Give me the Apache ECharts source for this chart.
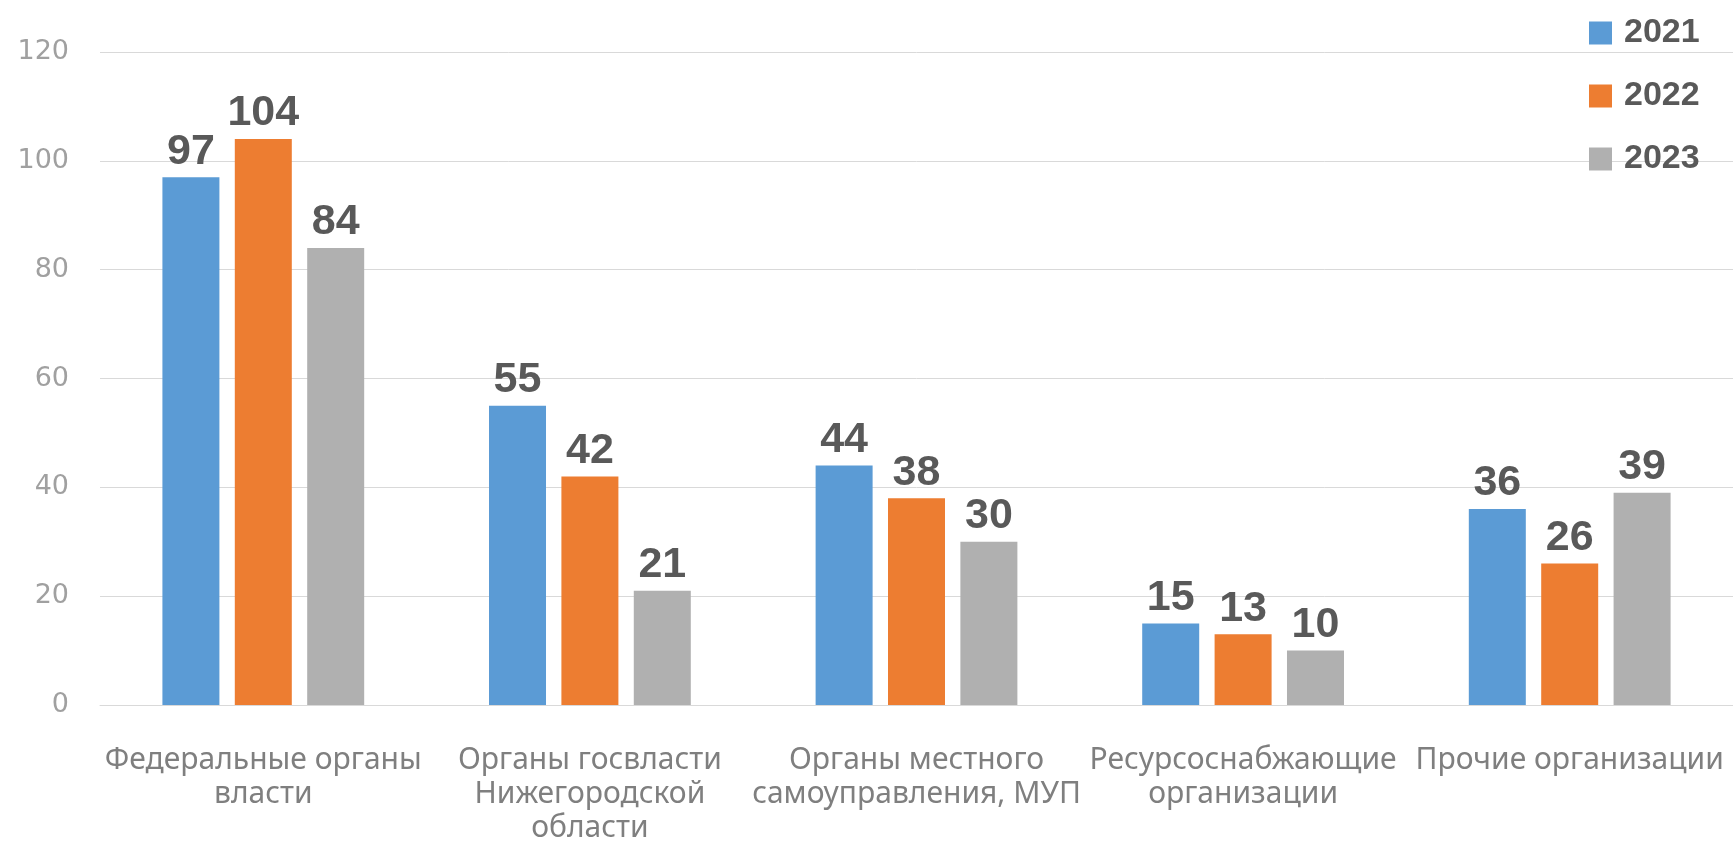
<!DOCTYPE html>
<html><head><meta charset="utf-8">
<script src="https://cdn.jsdelivr.net/npm/echarts@6/dist/echarts.min.js"></script>
<style>html,body{margin:0;padding:0;background:#fff}#c{width:1733px;height:845px}</style>
</head><body><div id="c"></div>
<script>
const categories = [
  "Федеральные органы\nвласти",
  "Органы госвласти\nНижегородской\nобласти",
  "Органы местного\nсамоуправления, МУП",
  "Ресурсоснабжающие\nорганизации",
  "Прочие организации"
];
const seriesNames = ["2021", "2022", "2023"];
const values2021 = [97, 55, 44, 15, 36];
const values2022 = [104, 42, 38, 13, 26];
const values2023 = [84, 21, 30, 10, 39];
const colors = ["#5B9BD5", "#ED7D31", "#B0B0B0"];

const chart = echarts.init(document.getElementById('c'));
const labelStyle = {
  show: true, position: 'top', distance: 4,
  fontFamily: 'Liberation Sans', fontWeight: 'bold', fontSize: 43, color: '#595959'
};
const data = [values2021, values2022, values2023];
chart.setOption({
  animation: false,
  backgroundColor: '#fff',
  color: colors,
  legend: {
    orient: 'vertical', left: 1584, top: 11,
    itemWidth: 23, itemHeight: 23, itemGap: 29, icon: 'rect',
    textStyle: { fontFamily: 'Liberation Sans', fontWeight: 'bold', fontSize: 34, color: '#595959', padding: [0,0,0,7] },
    data: seriesNames
  },
  grid: { left: 100, top: 52, width: 1642, height: 653, containLabel: false },
  xAxis: {
    type: 'category', data: categories,
    axisLine: { lineStyle: { color: '#d9d9d9' } },
    axisTick: { show: false },
    axisLabel: { interval: 0, margin: 38, fontFamily: 'Noto Sans', fontSize: 30, lineHeight: 34, color: '#7f7f7f' }
  },
  yAxis: {
    type: 'value', min: 0, max: 120, interval: 20,
    axisLine: { show: false }, axisTick: { show: false },
    splitLine: { lineStyle: { color: '#d9d9d9' } },
    axisLabel: { margin: 31, fontFamily: 'DejaVu Sans', fontSize: 27, color: '#a0a0a0' }
  },
  series: seriesNames.map((n, i) => ({
    name: n, type: 'bar', data: data[i],
    barWidth: 57, barGap: '27%',
    label: labelStyle
  }))
});
</script></body></html>
